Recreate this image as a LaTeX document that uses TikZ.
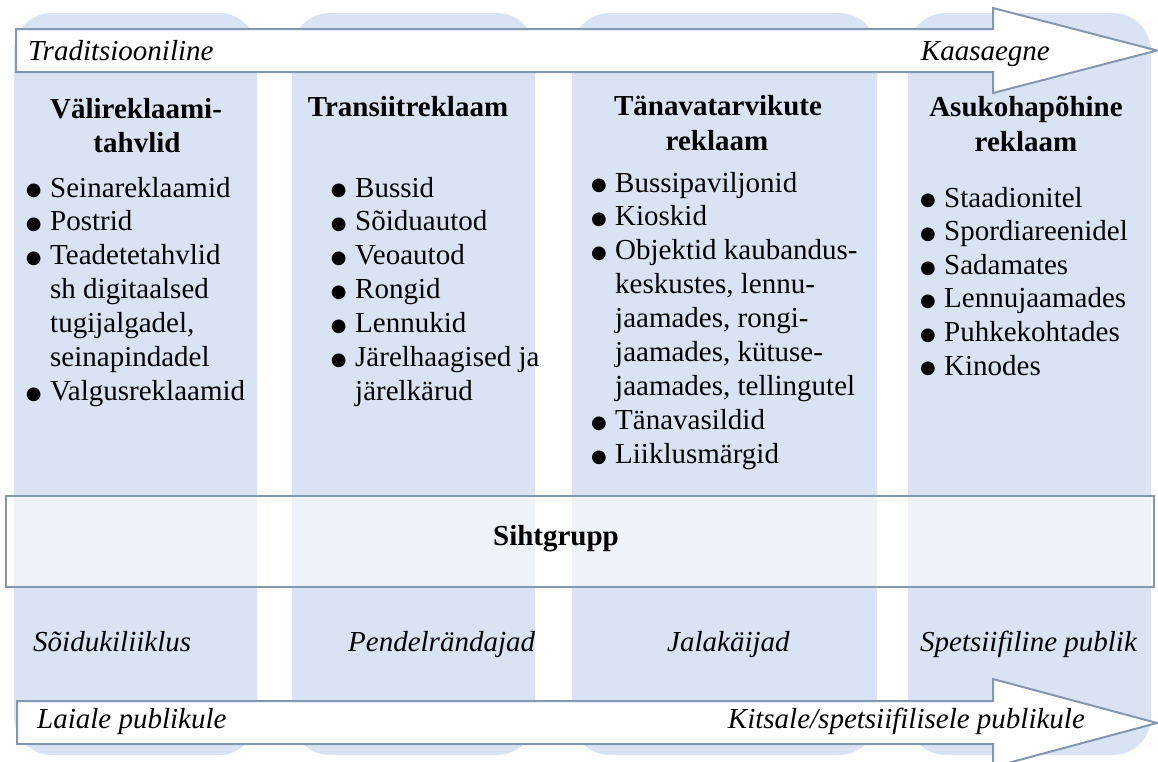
\documentclass[tikz,border=0pt]{standalone}
\usepackage{fontspec}
\setmainfont{Liberation Serif}
\newfontfamily\bulletfont{DejaVu Sans}
\definecolor{colfill}{HTML}{DAE3F3}
\definecolor{edgecol}{HTML}{8497B0}
% bullet hanging to the left of the item text
\newcommand\blt{\llap{\raisebox{1.2pt}{\bulletfont\fontsize{18}{20}\selectfont ●}\hspace{8.5pt}}}
\begin{document}
\begin{tikzpicture}[x=1pt,y=-1pt,
  column/.style={fill=colfill, rounded corners=38pt},
  blockarrow/.style={draw=edgecol, line width=2pt, fill=white, line join=miter},
  band/.style={draw=edgecol, line width=2pt, fill=white, fill opacity=0.55,
    minimum width=1148pt, minimum height=91pt, inner sep=0pt},
  head/.style={font=\fontsize{29}{34}\selectfont\bfseries, inner sep=0pt, anchor=base},
  item/.style={font=\fontsize{29}{34}\selectfont, inner sep=0pt, anchor=base west},
  tag/.style={font=\fontsize{29}{34}\selectfont\itshape, inner sep=0pt, anchor=base west},
  tagr/.style={tag, anchor=base east},
]
\clip (0,0) rectangle (1158,761);

% four category columns
\fill[column] (14,13) rectangle (257,755);
\fill[column] (292,13) rectangle (535,755);
\fill[column] (572,13) rectangle (877,755);
\fill[column] (908,13) rectangle (1151,755);

% upper block arrow: traditional -> contemporary
\draw[blockarrow] (16,29) coordinate (ta) -- (993,29) -- (993,8) -- (1157,50.5) coordinate (tip1)
  -- (993,93) -- (993,72) -- (16,72) -- cycle;
% lower block arrow: broad -> specific audience
\draw[blockarrow] (17,701) coordinate (ba) -- (993,701) -- (993,679) -- (1157,723) coordinate (tip2)
  -- (993,767) -- (993,744) -- (17,744) -- cycle;

% target group band
\node[band] (siht) at (580,541.5) {};
\node[head] (sihtlabel) at (556,545) {Sihtgrupp};

% arrow labels
\node[tag] (trad) at (28,60) {Traditsiooniline};
\node[tagr] (kaas) at (1050,60) {Kaasaegne};
\node[tag] (laiale) at (37,728) {Laiale publikule};
\node[tagr] (kitsale) at (1085,728) {Kitsale/spetsiifilisele publikule};

% audiences
\node[tag] (aud1) at (33,651) {Sõidukiliiklus};
\node[tag] (aud2) at (348,651) {Pendelrändajad};
\node[tag] (aud3) at (667,651) {Jalakäijad};
\node[tag] (aud4) at (920,651) {Spetsiifiline publik};

% column headings
\node[head] (h1a) at (136,118) {Välireklaami-};
\node[head] (h1b) at (137,152) {tahvlid};
\node[head] (h2a) at (408,116) {Transiitreklaam};
\node[head] (h3a) at (718,115) {Tänavatarvikute};
\node[head] (h3b) at (717,150) {reklaam};
\node[head] (h4a) at (1026,116) {Asukohapõhine};
\node[head] (h4b) at (1026,151) {reklaam};

% column lists
\foreach \t [count=\i] in {{\blt Seinareklaamid},{\blt Postrid},{\blt Teadetetahvlid},
  {sh digitaalsed},{tugijalgadel,},{seinapindadel},{\blt Valgusreklaamid}}
  \node[item] (a\i) at (50,{197+33.9*(\i-1)}) {\t};
\foreach \t [count=\i] in {{\blt Bussid},{\blt Sõiduautod},{\blt Veoautod},{\blt Rongid},
  {\blt Lennukid},{\blt Järelhaagised ja},{järelkärud}}
  \node[item] (b\i) at (355,{197+33.9*(\i-1)}) {\t};
\foreach \t [count=\i] in {{\blt Bussipaviljonid},{\blt Kioskid},{\blt Objektid kaubandus-},
  {keskustes, lennu-},{jaamades, rongi-},{jaamades, kütuse-},{jaamades, tellingutel},
  {\blt Tänavasildid},{\blt Liiklusmärgid}}
  \node[item] (c\i) at (615,{192+33.9*(\i-1)}) {\t};
\foreach \t [count=\i] in {{\blt Staadionitel},{\blt Spordiareenidel},{\blt Sadamates},
  {\blt Lennujaamades},{\blt Puhkekohtades},{\blt Kinodes}}
  \node[item] (d\i) at (944,{207+33.6*(\i-1)}) {\t};
\end{tikzpicture}
\end{document}
